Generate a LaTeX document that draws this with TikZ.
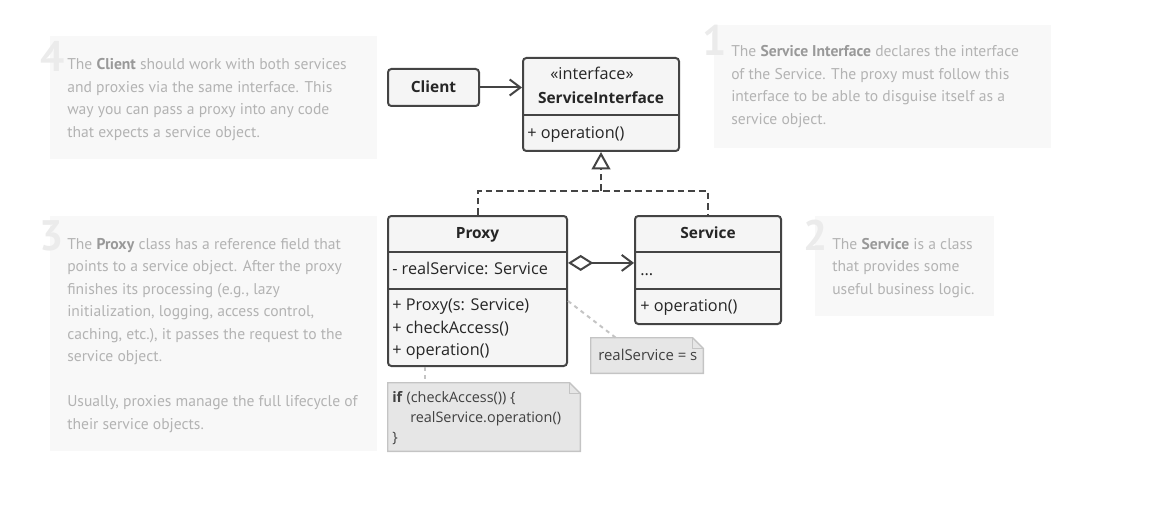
\documentclass[tikz,border=0pt]{standalone}
\usepackage{fontspec}
\setmainfont{Open Sans}
\newfontfamily\notefont{PT Sans}
\usetikzlibrary{arrows.meta,positioning}

\definecolor{boxline}{HTML}{444444}
\definecolor{boxfill}{HTML}{F5F5F5}
\definecolor{notebg}{HTML}{F8F8F8}
\definecolor{notetext}{HTML}{B3B3B3}
\definecolor{notebold}{HTML}{999999}
\definecolor{numgray}{HTML}{EBEBEB}
\definecolor{memofill}{HTML}{E6E6E6}
\definecolor{memoline}{HTML}{C4C4C4}

\newcommand{\nb}[1]{{\bfseries\color{notebold}#1}}

\tikzset{
	umlbox/.style = {draw=boxline, fill=boxfill, line width=1.5pt, rounded corners=2.5pt, inner sep=0pt},
	sepline/.style = {draw=boxline, line width=1.5pt},
	member/.style = {anchor=base west, inner sep=0pt, font=\fontsize{12.2}{14}\selectfont, text=black!85},
	classname/.style = {anchor=base, inner sep=0pt, font=\bfseries\fontsize{11.6}{14}\selectfont, text=black!85},
	memo/.style = {inner sep=0pt},
	memoshape/.style = {draw=memoline, fill=memofill, line width=1.1pt},
	memotext/.style = {anchor=base west, inner sep=0pt, font=\fontsize{11.2}{15}\selectfont, text=black!75},
	codetext/.style = {anchor=base west, inner sep=0pt, align=left, font=\fontsize{10.8}{15}\selectfont, text=black!75},
	memolink/.style = {draw=memoline, line width=1.5pt, dash pattern=on 3pt off 3pt},
	notetxt/.style = {anchor=base west, inner sep=0pt, align=left, text=notetext, font=\notefont\fontsize{11.7}{16.875}\selectfont},
	notenum/.style = {anchor=base east, inner sep=0pt, text=numgray, font=\notefont\bfseries\fontsize{32}{32}\selectfont},
	assoc/.style = {draw=boxline, line width=1.5pt}
}

\begin{document}
\begin{tikzpicture}[x=0.75pt, y=-0.75pt]
	\useasboundingbox (0,0) rectangle (1155,506);

	% notes (text nodes sit on the baseline of their last line)
	\fill[notebg] (50,36) rectangle (377,159);
	\fill[notebg] (714,25) rectangle (1051,148);
	\fill[notebg] (50,216) rectangle (377,451);
	\fill[notebg] (815,216) rectangle (994,316);

	\node[notenum] (num4) at (65,72) {4};
	\node[notetxt] (note4) at (67,137.5) {The \nb{Client} should work with both services\\and proxies via the same interface. This\\way you can pass a proxy into any code\\that expects a service object.};
	\node[notenum] (num1) at (727,56) {1};
	\node[notetxt] (note1) at (731,124.5) {The \nb{Service Interface} declares the interface\\of the Service. The proxy must follow this\\interface to be able to disguise itself as a\\service object.};
	\node[notenum] (num3) at (64,250) {3};
	\node[notetxt] (note3) at (67,429) {The \nb{Proxy} class has a reference field that\\points to a service object. After the proxy\\finishes its processing (e.g., lazy\\initialization, logging, access control,\\caching, etc.), it passes the request to the\\service object.\\[16.875pt]Usually, proxies manage the full lifecycle of\\their service objects.};
	\node[notenum] (num2) at (828,250) {2};
	\node[notetxt] (note2) at (832,294) {The \nb{Service} is a class\\that provides some\\useful business logic.};

	% classes
	\node[umlbox, minimum width=68.25pt, minimum height=27.75pt] (client) at (433.5,87.5) {};
	\node[classname] at (433.5,92.5) {Client};

	\node[umlbox, minimum width=117pt, minimum height=69.75pt] (iface) at (601,104.5) {};
	\draw[sepline] (iface.west |- 0,115) -- (iface.east |- 0,115);
	\node[anchor=base, inner sep=0pt, font=\fontsize{12.2}{14}\selectfont, text=black!85] at (592,80) {«interface»};
	\node[classname] at (601,104) {ServiceInterface};
	\node[member] at (527,138) {+ operation()};

	\node[umlbox, minimum width=134.25pt, minimum height=112.5pt] (proxy) at (477.5,291) {};
	\draw[sepline] (proxy.west |- 0,252) -- (proxy.east |- 0,252);
	\draw[sepline] (proxy.west |- 0,289) -- (proxy.east |- 0,289);
	\node[classname] at (477.5,238) {Proxy};
	\node[member] (pfield) at (392,274) {- realService: Service};
	\node[member] (pm1) at (392,310) {+ Proxy(s: Service)};
	\node[member] (pm2) at (392,333) {+ checkAccess()};
	\node[member] (pm3) at (392,355) {+ operation()};

	\node[umlbox, minimum width=109.5pt, minimum height=81pt] (service) at (708,270) {};
	\draw[sepline] (service.west |- 0,252) -- (service.east |- 0,252);
	\draw[sepline] (service.west |- 0,289) -- (service.east |- 0,289);
	\node[classname] at (708,238) {Service};
	\node[member] (sfield) at (640,275) {...};
	\node[member] (sm1) at (640,311) {+ operation()};

	% connectors
	\draw[assoc, -{Straight Barb[length=8pt, width=12pt, line width=1.5pt]}] (client.east) -- (client.east -| iface.west);
	\coordinate (join) at (601,191);
	\draw[assoc, dashed, dash pattern=on 5pt off 3pt] (proxy.north) |- (join) -| (service.north);
	\draw[assoc, dashed, dash pattern=on 5pt off 3pt, -{Triangle[open, length=13pt, width=14pt, line width=1.5pt]}] (join) -- (iface.south);
	\draw[assoc, {Diamond[fill=white, length=19pt, width=12pt, line width=1.5pt]}-{Straight Barb[length=8pt, width=12pt, line width=1.5pt]}] (proxy.east |- pfield) ++(0,-5) coordinate (aggs) -- (aggs -| service.west);

	% memos
	\node[memo, minimum width=84pt, minimum height=26.25pt] (setnote) at (647,355.5) {};
	\draw[memoshape] (setnote.south west) -- (setnote.north west) -- ([xshift=-8pt]setnote.north east) -- ([yshift=-8pt]setnote.north east) -- (setnote.south east) -- cycle;
	\draw[memoshape, fill=none] ([xshift=-8pt]setnote.north east) -- ([xshift=-8pt, yshift=-8pt]setnote.north east) -- ([yshift=-8pt]setnote.north east);
	\node[memotext] at (598,360) {realService = s};

	\node[memo, minimum width=144pt, minimum height=51pt] (codenote) at (484,417) {};
	\draw[memoshape] (codenote.south west) -- (codenote.north west) -- ([xshift=-8pt]codenote.north east) -- ([yshift=-8pt]codenote.north east) -- (codenote.south east) -- cycle;
	\draw[memoshape, fill=none] ([xshift=-8pt]codenote.north east) -- ([xshift=-8pt, yshift=-8pt]codenote.north east) -- ([yshift=-8pt]codenote.north east);
	\node[codetext] at (392,442) {\textbf{if} (checkAccess()) \{\\\hspace*{13.5pt}realService.operation()\\\}};

	\coordinate (linkA) at ([xshift=18.75pt]setnote.north west);
	\draw[memolink] (pm1 -| proxy.east) ++(0,-5) -- (linkA);
	\coordinate (linkB) at ([xshift=27.75pt]codenote.north west);
	\draw[memolink] (linkB |- proxy.south) -- (linkB);
\end{tikzpicture}
\end{document}
